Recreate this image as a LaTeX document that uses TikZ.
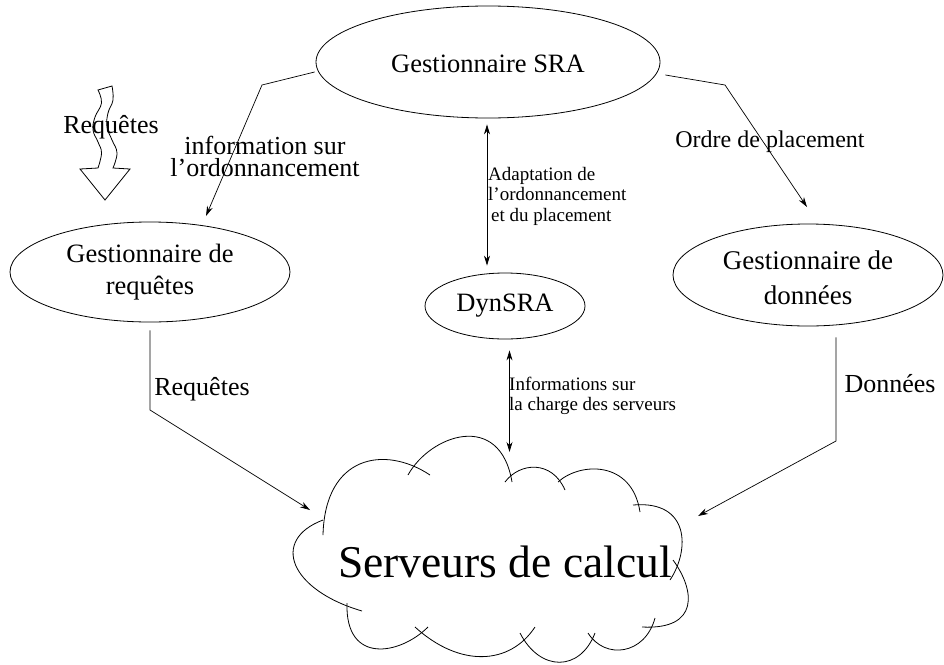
\documentclass[tikz,border=0pt]{standalone}
\usepackage{fontspec}
\setmainfont{Liberation Serif}
\usetikzlibrary{shapes.geometric,arrows.meta}
\tikzset{
  ell/.style={draw, ellipse, inner sep=0pt, line width=0.8pt},
  arr/.style={-{Stealth[length=10pt,width=6pt]}, line width=0.7pt},
  darr/.style={{Stealth[length=10pt,width=6pt]}-{Stealth[length=10pt,width=6pt]}, line width=0.7pt},
  cl/.style={line width=0.8pt},
  lbl/.style={inner sep=0pt, font=\fontsize{26}{22}\selectfont},
  smalllbl/.style={inner sep=0pt, align=left, font=\fontsize{19}{20.5}\selectfont},
}
\begin{document}
\begin{tikzpicture}[x=1pt,y=-1pt]
\useasboundingbox (0,0) rectangle (944,664);

% ellipses
\node[ell, minimum width=344pt, minimum height=112pt, font=\fontsize{26.5}{30}\selectfont] (sra) at (488,62) {\raisebox{-10pt}[0pt][0pt]{Gestionnaire SRA}};
\node[ell, minimum width=280pt, minimum height=100pt, align=center, font=\fontsize{26.5}{32}\selectfont] (gdr) at (150,272) {Gestionnaire de\\requêtes};
\node[ell, minimum width=270pt, minimum height=102pt, align=center, font=\fontsize{27}{35}\selectfont] (gdd) at (808,275) {\rule{0pt}{24pt}Gestionnaire de\\données};
\node[ell, minimum width=160pt, minimum height=66pt, font=\fontsize{26.5}{30}\selectfont] (dyn) at (505,306) {DynSRA};

% cloud
\node[inner sep=0pt, anchor=base, font=\fontsize{45.5}{50}\selectfont] (srv) at (505,577) {Serveurs de calcul};
\draw[cl] (323,535) .. controls (325,455) and (385,445) .. (430,475);
\draw[cl] (408,475) .. controls (430,435) and (500,410) .. (512,482);
\draw[cl] (505,482) .. controls (520,462) and (552,460) .. (565,490);
\draw[cl] (558,482) .. controls (580,462) and (632,460) .. (640,512);
\draw[cl] (633,505) .. controls (690,500) and (690,550) .. (670,580);
\draw[cl] (673,560) .. controls (695,590) and (700,630) .. (642,627);
\draw[cl] (655,618) .. controls (645,655) and (605,660) .. (588,633);
\draw[cl] (595,633) .. controls (580,672) and (540,672) .. (520,633);
\draw[cl] (535,627) .. controls (510,665) and (460,668) .. (415,627);
\draw[cl] (428,627) .. controls (400,655) and (345,665) .. (347,603);
\draw[cl] (362,611) .. controls (290,590) and (270,540) .. (323,520);

% wavy arrow
\draw[cl] (80,169) -- (98,168) -- plot[smooth, tension=0.7] coordinates {(98,168)(101.5,153)(98,142)(93,130)(95,117)(101.5,103)(98,90)}
  -- (112,86) -- plot[smooth, tension=0.7] coordinates {(112,86)(113,100)(108,113)(107,127)(112,140)(117,153)(113,168)}
  -- (130,169) -- (105,200) -- cycle;
\node[lbl, anchor=base] (rq1) at (111,133) {Requêtes};

% coordinates
\coordinate (b1) at (262,85);
\coordinate (t1) at (206,216);
\coordinate (b2) at (725,85);
\coordinate (t2) at (807,207);
\coordinate (b3) at (150,410);
\coordinate (t3) at (310,510);
\coordinate (b4) at (836,441);
\coordinate (t4) at (698,516);
\coordinate (t5) at (509.5,452);

% connectors
\draw[arr] ([shift={(-1pt,-10pt)}]sra.west) -- (b1) -- (t1);
\draw[arr] ([shift={(5pt,-13pt)}]sra.east) -- (b2) -- (t2);
\draw[darr] ([shift={(-1pt,-6pt)}]sra.south) -- ([shift={(-18pt,7pt)}]dyn.north);
\draw[darr] ([shift={(4.5pt,-11pt)}]dyn.south) -- (t5);
\draw[arr] ([yshift=-8pt]gdr.south) -- (b3) -- (t3);
\draw[arr] ([shift={(28pt,-11pt)}]gdd.south) -- (b4) -- (t4);

% labels
\node[lbl, align=center] (l1) at (265,156) {information sur\\l'ordonnancement};
\node[lbl, anchor=base, font=\fontsize{24}{28}\selectfont] (l2) at (770,147) {Ordre de placement};
\node[smalllbl, anchor=west] (l3) at (488,196) {Adaptation de\\l'ordonnancement\\\hspace*{3pt}et du placement};
\node[smalllbl, anchor=west] (l4) at (509,396) {Informations sur\\la charge des serveurs};
\node[lbl, anchor=base] (l5) at (202,395) {Requêtes};
\node[lbl, anchor=base] (l6) at (890,392) {Données};
\end{tikzpicture}
\end{document}
